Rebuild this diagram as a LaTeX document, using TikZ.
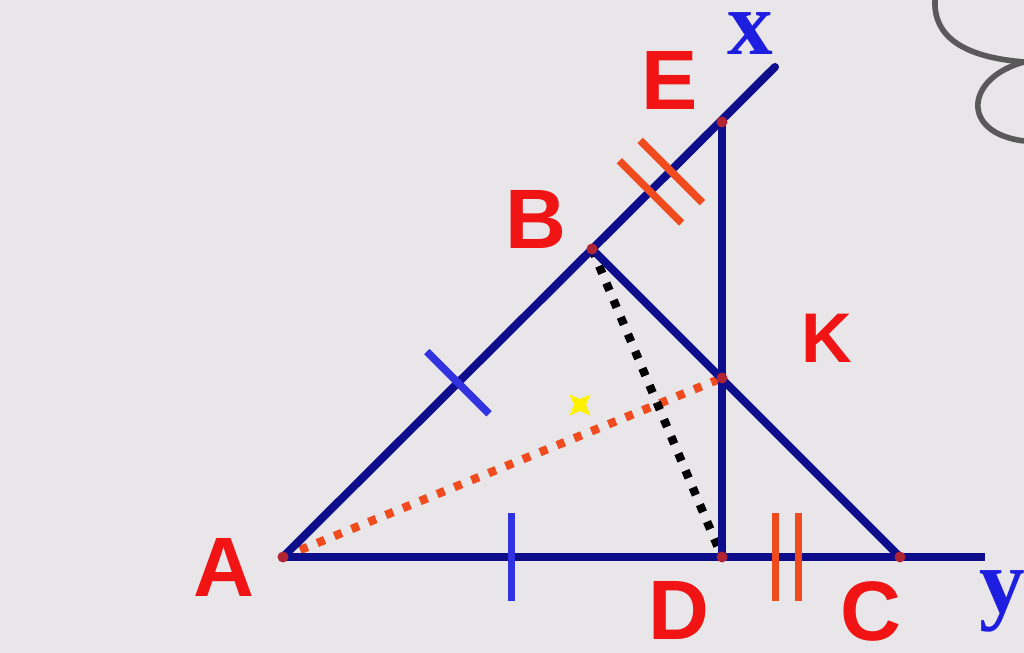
\documentclass[tikz,border=0pt]{standalone}
\usepackage{fontspec}
\setmainfont{Liberation Sans}
\newfontfamily\axisfont{Liberation Serif}
\usetikzlibrary{shapes.geometric}
\usetikzlibrary{positioning}
\usetikzlibrary{calc}

\begin{document}
\begin{tikzpicture}[node distance=1cm,
	point node/.style={circle,fill=dotred,inner sep=0pt,minimum size=0.11cm},
	ptlabel/.style={text=labelred,font=\bfseries\fontsize{24}{24}\selectfont,inner sep=0pt},
	axlabel/.style={text=axisblue,font=\axisfont\bfseries\fontsize{26}{26}\selectfont,inner sep=0pt},
	side/.style={draw=navy,line width=2.3pt},
	dotline/.style={line width=2.4pt,dash pattern=on 0.08cm off 0.105cm},
	tick/.style={rectangle,inner sep=0pt,minimum width=0.075cm,minimum height=0.88cm}]
	
	\definecolor{bg}{RGB}{233,230,234}
	\definecolor{navy}{RGB}{14,14,140}
	\definecolor{dotred}{RGB}{176,36,52}
	\definecolor{labelred}{RGB}{240,20,20}
	\definecolor{axisblue}{RGB}{30,30,225}
	\definecolor{tickblue}{RGB}{50,50,225}
	\definecolor{tickorange}{RGB}{240,75,30}
	
	\fill[bg] (0,0) rectangle (10.24,6.53);
	\useasboundingbox (0,0) rectangle (10.24,6.53);
	
	% points
	\coordinate (a) at (2.83,0.96);
	\coordinate (b) at (5.92,4.04);
	\coordinate (e) at (7.22,5.31);
	\coordinate (d) at (7.22,0.96);
	\coordinate (c) at (9.00,0.96);
	\coordinate (k) at (7.22,2.75);
	\coordinate (xend) at (7.75,5.86);
	\coordinate (yend) at (9.85,0.96);
	
	% dotted segments
	\draw[dotline,draw=tickorange] (a) -- (k);
	\draw[dotline,draw=black] (b) -- (d);
	
	% rays and sides
	\draw[side,line cap=round] (a) -- (xend);
	\draw[side] (a) -- (yend);
	\draw[side] (b) -- (c);
	\draw[side] (e) -- (d);
	
	% equal marks
	\node[tick,fill=tickblue,rotate=45] (t1) at ($(a)!0.566!(b)$) {};
	\node[tick,fill=tickblue] (t2) at ($(a)!0.52!(d)$) {};
	\node[tick,fill=tickorange,rotate=45] (t3) at ($(b)!0.45!(e)$) {};
	\node[tick,fill=tickorange,rotate=45] (t4) at ($(b)!0.61!(e)$) {};
	\node[tick,fill=tickorange] (t5) at ($(d)!0.30!(c)$) {};
	\node[tick,fill=tickorange] (t6) at ($(d)!0.43!(c)$) {};
	
	\foreach \p in {a,b,e,d,c,k}
		\node[point node] (\p dot) at (\p) {};
	
	% labels
	\node[ptlabel] (la) at (2.24,0.86) {A};
	\node[ptlabel] (lb) at (5.36,4.34) {B};
	\node[ptlabel] (le) at (6.70,5.73) {E};
	\node[ptlabel,font=\bfseries\fontsize{20}{20}\selectfont] (lk) at (8.27,3.15) {K};
	\node[ptlabel] (ld) at (6.79,0.43) {D};
	\node[ptlabel] (lc) at (8.71,0.42) {C};
	\node[axlabel] (lx) at (7.50,6.19) {x};
	\node[axlabel] (ly) at (10.02,0.52) {y};
	
	% small star
	\node[star,star points=4,star point ratio=0.4,fill=yellow,inner sep=0pt,minimum size=0.12cm] (s) at (5.80,2.48) {};
	
	% scribble at the edge
	\draw[gray!70!black,line width=1.6pt] (9.35,6.53) .. controls (9.33,6.1) and (9.75,5.95) .. (10.24,5.91);
	\draw[gray!70!black,line width=1.6pt] (10.24,5.91) .. controls (9.65,5.75) and (9.6,5.2) .. (10.24,5.12);
\end{tikzpicture}
\end{document}
